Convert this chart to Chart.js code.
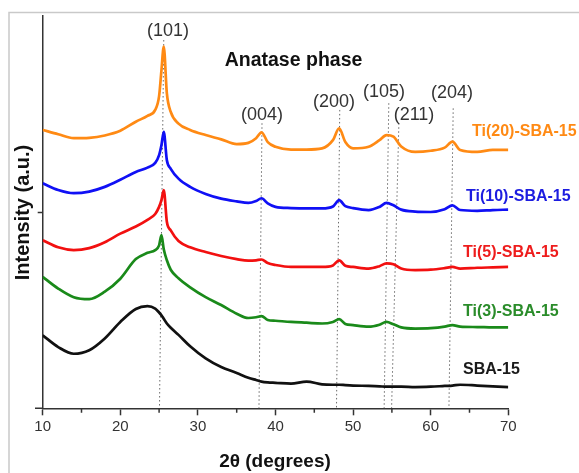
<!DOCTYPE html>
<html>
<head>
<meta charset="utf-8">
<script src="https://cdn.jsdelivr.net/npm/chart.js@4.4.1/dist/chart.umd.min.js"></script>
<style>
  body { margin: 0; background: #fff; overflow: hidden; }
  #xrd { display: block; }
</style>
</head>
<body>
<canvas id="xrd" width="579" height="473"></canvas>
<script>
// ====================================================================
// DATA: 2theta grid + intensity (a.u., offset curves) for each sample
// ====================================================================
const twoTheta = [10, 12, 14, 16, 18, 20, 22, 23.5, 24.5, 25, 25.3, 25.6, 26, 26.5, 27.5, 29, 31, 33, 35, 36.5,
    37.5, 38.2, 39, 40, 42, 44, 46, 47.4, 48.2, 49, 50, 52, 53.4, 54.3, 55.2, 56.2, 58, 60, 61.8, 62.8, 63.8, 66, 68, 70];

const ti20 = [70.9, 69.8, 68.8, 68.9, 69.5, 70.7, 73.0, 74.5, 76.0, 79.5, 86.0, 92.1, 80.2, 75.5, 72.5, 70.9, 69.6, 68.5, 67.3, 67.6,
    68.8, 70.3, 67.8, 66.6, 65.9, 65.9, 66.2, 68.3, 71.3, 67.8, 66.2, 66.6, 68.3, 69.6, 69.2, 66.7, 65.3, 65.6, 66.4, 67.9, 65.8, 65.3, 65.8, 65.8];
const ti10 = [57.3, 55.6, 54.8, 55.2, 56.4, 58.2, 60.2, 61.3, 62.5, 64.5, 67.0, 70.4, 63.2, 61.0, 58.5, 56.4, 54.6, 53.4, 52.7, 52.3,
    52.8, 53.5, 52.2, 51.3, 51.0, 50.9, 50.9, 51.4, 53.0, 51.5, 51.0, 50.5, 51.3, 52.3, 51.7, 50.6, 50.1, 50.0, 50.7, 51.7, 50.5, 50.3, 50.5, 50.6];
const ti5 = [42.8, 41.0, 40.3, 40.8, 42.3, 44.5, 46.3, 48.0, 49.5, 51.3, 53.0, 55.6, 47.5, 45.3, 42.6, 41.0, 39.8, 38.8, 38.0, 37.6,
    37.7, 37.9, 37.0, 36.5, 36.0, 36.0, 36.0, 36.4, 37.7, 36.3, 36.0, 35.6, 36.2, 36.9, 36.7, 35.6, 35.2, 35.3, 35.7, 36.0, 35.6, 35.8, 35.9, 36.0];
const ti3 = [33.5, 30.5, 28.3, 27.8, 29.7, 33.0, 38.0, 39.6, 40.3, 41.5, 44.1, 40.5, 37.7, 35.3, 33.1, 30.8, 28.3, 26.3, 24.1, 23.0,
    23.2, 23.5, 22.5, 22.3, 22.0, 21.8, 21.6, 22.0, 22.7, 21.5, 21.2, 20.8, 21.3, 22.0, 21.4, 20.6, 20.3, 20.4, 20.8, 21.2, 20.8, 20.7, 20.6, 20.6];
const sba15 = [18.6, 15.6, 13.9, 14.8, 17.8, 22.0, 25.3, 26.0, 25.4, 24.4, 23.7, 22.8, 21.6, 20.5, 18.7, 15.8, 12.7, 10.5, 9.0, 7.8,
    7.2, 6.8, 6.6, 6.5, 6.3, 6.8, 6.1, 6.0, 6.0, 5.9, 5.8, 5.7, 5.6, 5.5, 5.5, 5.5, 5.4, 5.5, 5.7, 5.8, 6.0, 5.8, 5.6, 5.4];

const sampleNames = ['Ti(20)-SBA-15', 'Ti(10)-SBA-15', 'Ti(5)-SBA-15', 'Ti(3)-SBA-15', 'SBA-15'];

// anatase reflections (dotted guide lines, slightly slanted in the original)
const hklNames = ['(101)', '(004)', '(200)', '(105)', '(211)', '(204)'];
const hklTopX = [25.6, 38.26, 48.28, 54.6, 55.9, 62.9];
const hklBottomX = [25.05, 37.87, 47.86, 54.0, 54.96, 62.35];
const hklTopY = [93.8, 72.6, 76.0, 77.7, 72.6, 76.4];

const xTicks = [10, 20, 30, 40, 50, 60, 70];
const xMinorTicks = [15, 25, 35, 45, 55, 65];

// ====================================================================
// estilos
// ====================================================================
const FONT = '"Liberation Sans", Arial, sans-serif';
const AXIS = '#333';
const lineColors = ['#ff8a14', '#1010f5', '#f21010', '#1a8a1a', '#111111'];
const labelColors = ['#ff8a14', '#1c1ce0', '#ee1c1c', '#2a8c2a', '#1a1a1a'];
// label placement in pixels: [left, centerY]
const labelPos = [[472, 132], [466, 197], [463, 253], [463, 312], [463, 370]];
const hklLabelPos = [[168, 31], [262, 115], [334, 102], [384, 92], [414, 115], [452, 93]];

const curves = [ti20, ti10, ti5, ti3, sba15].map((vals, i) => ({
    label: sampleNames[i],
    data: twoTheta.map((x, k) => ({ x: x, y: vals[k] })),
    borderColor: lineColors[i],
    borderWidth: 2.7,
    pointRadius: 0,
    cubicInterpolationMode: 'monotone',
    order: 0
}));

const guides = hklNames.map((n, i) => ({
    label: n,
    data: [{ x: hklTopX[i], y: hklTopY[i] }, { x: hklBottomX[i], y: 0 }],
    borderColor: '#6a6a6a',
    borderWidth: 1,
    borderDash: [1.5, 2.5],
    pointRadius: 0,
    order: 1
}));

// textos e ticks menores
const decorPlugin = {
    id: 'decor',
    beforeDraw(chart) {
        const c = chart.ctx;
        c.save();
        c.fillStyle = '#fff';
        c.fillRect(0, 0, chart.width, chart.height);
        c.strokeStyle = '#c9c9c9';
        c.lineWidth = 1.5;
        c.strokeRect(9, 12.5, 800, 800);
        c.restore();
    },
    afterDraw(chart) {
        const c = chart.ctx;
        const xs = chart.scales.x;
        const bottom = chart.chartArea.bottom;
        c.save();
        c.strokeStyle = AXIS;
        c.lineWidth = 1.5;
        c.beginPath();
        c.moveTo(35, bottom);
        c.lineTo(chart.chartArea.left, bottom);
        xMinorTicks.forEach(v => {
            const px = xs.getPixelForValue(v);
            c.moveTo(px, bottom);
            c.lineTo(px, bottom + 4.5);
        });
        c.stroke();

        c.textBaseline = 'middle';
        c.textAlign = 'center';
        c.fillStyle = '#333';
        c.font = '18px ' + FONT;
        hklNames.forEach((n, i) => c.fillText(n, hklLabelPos[i][0], hklLabelPos[i][1]));

        c.fillStyle = '#111';
        c.font = 'bold 19.5px ' + FONT;
        c.fillText('Anatase phase', 293.5, 61);
        c.font = 'bold 19px ' + FONT;
        c.fillText('2\u03b8 (degrees)', 275, 462);

        c.save();
        c.translate(23, 212.5);
        c.rotate(-Math.PI / 2);
        c.font = 'bold 20px ' + FONT;
        c.fillText('Intensity (a.u.)', 0, 0);
        c.restore();

        c.textAlign = 'left';
        c.font = 'bold 16px ' + FONT;
        sampleNames.forEach((n, i) => {
            c.fillStyle = labelColors[i];
            c.fillText(n, labelPos[i][0], labelPos[i][1]);
        });
        c.restore();
    }
};

new Chart(document.getElementById('xrd'), {
    type: 'line',
    data: { datasets: curves.concat(guides) },
    plugins: [decorPlugin],
    options: {
        responsive: false,
        animation: false,
        devicePixelRatio: 1,
        layout: { padding: { top: 15.7, right: 70.7, left: 0, bottom: 0 } },
        plugins: { legend: { display: false }, tooltip: { enabled: false } },
        scales: {
            x: {
                type: 'linear', min: 10, max: 70,
                afterBuildTicks: s => { s.ticks = xTicks.map(v => ({ value: v })); },
                afterFit: s => { s.height = 64.7; },
                grid: { drawOnChartArea: false, drawTicks: true, tickLength: 7, tickColor: AXIS, tickWidth: 1.5 },
                border: { display: true, color: AXIS, width: 1.5 },
                ticks: { color: '#333', font: { size: 15, family: FONT }, padding: 3, maxRotation: 0 }
            },
            y: {
                min: 0, max: 100,
                afterBuildTicks: s => { s.ticks = [{ value: 50 }]; },
                afterFit: s => { s.width = 42.7; },
                grid: { drawOnChartArea: false, drawTicks: true, tickLength: 5, tickColor: AXIS, tickWidth: 1.5 },
                border: { display: true, color: AXIS, width: 1.5 },
                ticks: { display: false }
            }
        }
    }
});
</script>
</body>
</html>
